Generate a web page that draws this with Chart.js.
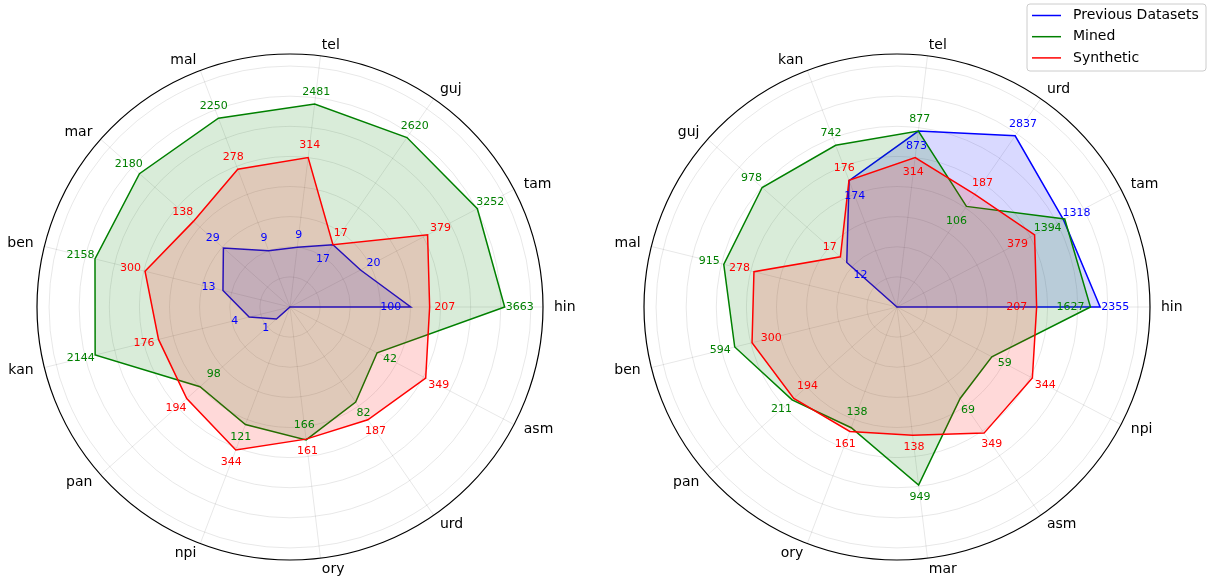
<!DOCTYPE html>
<html>
<head>
<meta charset="utf-8">
<script src="https://cdn.jsdelivr.net/npm/chart.js@4.4.1/dist/chart.umd.min.js"></script>
<style>
  html, body { margin: 0; padding: 0; background: #ffffff; }
  #wrap { position: relative; width: 1208px; height: 576px; overflow: hidden; }
  canvas { position: absolute; top: 0; }
  #leftChart { left: 0; }
  #rightChart { left: 604px; }
</style>
</head>
<body>
<div id="wrap">
  <canvas id="leftChart" width="604" height="576"></canvas>
  <canvas id="rightChart" width="604" height="576"></canvas>
</div>
<script>
// ---------- data ----------
const seriesNames = ['Previous Datasets', 'Mined', 'Synthetic'];

// left panel (categories listed counter-clockwise starting at the right)
const leftCategories = ['hin', 'tam', 'guj', 'tel', 'mal', 'mar', 'ben', 'kan', 'pan', 'npi', 'ory', 'urd', 'asm'];
const leftPrevious  = [100, 20, 17, 9, 9, 29, 13, 4, 1, 0, 0, 0, 0];
const leftMined     = [3663, 3252, 2620, 2481, 2250, 2180, 2158, 2144, 98, 121, 166, 82, 42];
const leftSynthetic = [207, 379, 17, 314, 278, 138, 300, 176, 194, 344, 161, 187, 349];

// right panel
const rightCategories = ['hin', 'tam', 'urd', 'tel', 'kan', 'guj', 'mal', 'ben', 'pan', 'ory', 'mar', 'asm', 'npi'];
const rightPrevious  = [2355, 1318, 2837, 873, 174, 12, 0, 0, 0, 0, 0, 0, 0];
const rightMined     = [1627, 1394, 106, 877, 742, 978, 915, 594, 211, 138, 949, 69, 59];
const rightSynthetic = [207, 379, 187, 314, 176, 17, 278, 300, 194, 161, 138, 349, 344];

// ---------- style ----------
const seriesColors = ['#0000ff', '#008000', '#ff0000'];
const seriesFills  = ['rgba(0,0,255,0.15)', 'rgba(0,128,0,0.15)', 'rgba(255,0,0,0.15)'];
const radialMax = 4.2;     // in log10(v+1) units
const gridStep = 0.5;
const FONT = '"DejaVu Sans", "Liberation Sans", sans-serif';

// value labels placed toward the centre instead of outward
const leftInward  = [['hin', 'guj'], ['pan', 'ory'], []];
const rightInward = [['tel', 'kan', 'guj'], ['hin', 'tam', 'urd', 'ory'], ['hin', 'tam', 'tel', 'ben', 'pan']];

function toLog(v) { return Math.log10(v + 1); }
function ccwOrder(n) { const o = [0]; for (let k = n - 1; k >= 1; k--) o.push(k); return o; }

const textPlugin = {
  id: 'radarText',
  afterDatasetsDraw(chart) {
    const sc = chart.scales.r;
    const ctx = chart.ctx;
    ctx.save();
    // category labels
    ctx.font = '14px ' + FONT;
    ctx.fillStyle = '#000000';
    ctx.textBaseline = 'middle';
    chart.data.labels.forEach((lab, i) => {
      const p = sc.getPointPosition(i, sc.drawingArea + 11);
      const c = Math.cos(p.angle);
      ctx.textAlign = c > 0.01 ? 'left' : (c < -0.01 ? 'right' : 'center');
      ctx.fillText(lab, p.x, p.y);
    });
    // value labels
    ctx.font = '11px ' + FONT;
    ctx.textAlign = 'center';
    chart.data.datasets.forEach(ds => {
      ctx.fillStyle = ds.borderColor;
      ds.valueLabels.forEach((v, i) => {
        if (!v) return;
        const a = sc.getIndexAngle(i) - Math.PI / 2;
        const c = Math.abs(Math.cos(a));
        const d = ds.labelInward[i] ? -(14 + 6 * c) : (12 + 3 * c);
        const r = sc.getDistanceFromCenterForValue(ds.data[i]) + d;
        const p = sc.getPointPosition(i, r);
        ctx.fillText(String(v), p.x, p.y);
      });
    });
    ctx.restore();
  }
};

const legendPlugin = {
  id: 'boxLegend',
  afterDraw(chart) {
    const ctx = chart.ctx;
    const x0 = 423, y0 = 4, w = 179, h = 67, rad = 3;
    ctx.save();
    ctx.beginPath();
    ctx.moveTo(x0 + rad, y0);
    ctx.lineTo(x0 + w - rad, y0);
    ctx.quadraticCurveTo(x0 + w, y0, x0 + w, y0 + rad);
    ctx.lineTo(x0 + w, y0 + h - rad);
    ctx.quadraticCurveTo(x0 + w, y0 + h, x0 + w - rad, y0 + h);
    ctx.lineTo(x0 + rad, y0 + h);
    ctx.quadraticCurveTo(x0, y0 + h, x0, y0 + h - rad);
    ctx.lineTo(x0, y0 + rad);
    ctx.quadraticCurveTo(x0, y0, x0 + rad, y0);
    ctx.closePath();
    ctx.fillStyle = 'rgba(255,255,255,0.8)';
    ctx.fill();
    ctx.strokeStyle = '#cccccc';
    ctx.lineWidth = 1;
    ctx.stroke();
    ctx.font = '14px ' + FONT;
    ctx.textBaseline = 'middle';
    ctx.textAlign = 'left';
    chart.data.datasets.forEach((ds, k) => {
      const y = y0 + 11.5 + k * 21.2;
      ctx.strokeStyle = ds.borderColor;
      ctx.lineWidth = 1.5;
      ctx.beginPath();
      ctx.moveTo(x0 + 5, y);
      ctx.lineTo(x0 + 34, y);
      ctx.stroke();
      ctx.fillStyle = '#000000';
      ctx.fillText(ds.label, x0 + 46, y);
    });
    ctx.restore();
  }
};

function makeChart(canvasId, categories, series, inward, padding, extraPlugins) {
  const order = ccwOrder(categories.length);
  const labels = order.map(i => categories[i]);
  const datasets = series.map((vals, s) => ({
    label: seriesNames[s],
    data: order.map(i => toLog(vals[i])),
    valueLabels: order.map(i => vals[i]),
    labelInward: order.map(i => inward[s].includes(categories[i])),
    borderColor: seriesColors[s],
    backgroundColor: seriesFills[s],
    borderWidth: 1.5,
    fill: true,
    tension: 0,
    pointRadius: 0,
    pointHoverRadius: 0,
    order: 2 - s
  }));
  return new Chart(document.getElementById(canvasId), {
    type: 'radar',
    data: { labels, datasets },
    options: {
      responsive: false,
      animation: false,
      layout: { padding },
      plugins: { legend: { display: false }, tooltip: { enabled: false } },
      scales: {
        r: {
          min: 0,
          max: radialMax,
          startAngle: 90,
          afterBuildTicks: (scale) => {
            const t = [];
            for (let k = 0; k * gridStep <= 4.0001; k++) t.push({ value: k * gridStep });
            t.push({ value: radialMax });
            scale.ticks = t;
          },
          ticks: { display: false },
          grid: {
            circular: true,
            color: (c) => (c.tick && c.tick.value >= radialMax - 1e-6) ? '#000000' : 'rgba(0,0,0,0.12)',
            lineWidth: (c) => (c.tick && c.tick.value >= radialMax - 1e-6) ? 1.2 : 0.8
          },
          angleLines: { color: 'rgba(0,0,0,0.12)', lineWidth: 0.8 },
          pointLabels: { display: false }
        }
      }
    },
    plugins: [textPlugin].concat(extraPlugins)
  });
}

makeChart('leftChart', leftCategories, [leftPrevious, leftMined, leftSynthetic], leftInward,
  { left: 37, right: 61, top: 54, bottom: 16 }, []);
makeChart('rightChart', rightCategories, [rightPrevious, rightMined, rightSynthetic], rightInward,
  { left: 40, right: 58, top: 54, bottom: 16 }, [legendPlugin]);
</script>
</body>
</html>
